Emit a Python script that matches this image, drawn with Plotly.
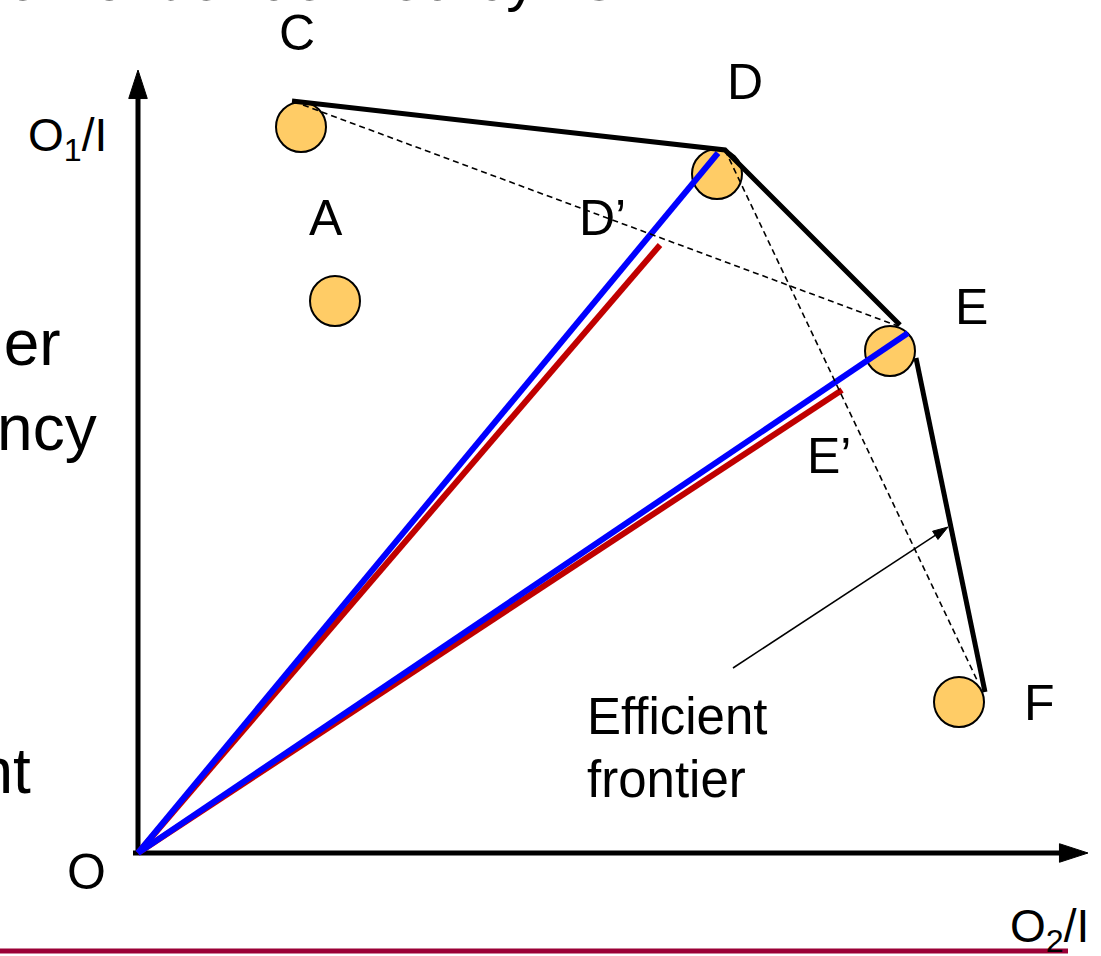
import plotly.graph_objects as go

# ---------------- data (units: O = origin, 1 unit ≈ 100 px) ----------------
point_names = ["C", "A", "D", "E", "F"]
point_x = [1.63, 1.97, 5.79, 7.52, 8.21]
point_y = [7.26, 5.52, 6.79, 5.02, 1.51]

# efficient frontier (solid black), gap between E and the E–F segment
frontier_x = [1.54, 5.87, 7.62, None, 7.78, 8.47]
frontier_y = [7.52, 7.03, 5.28, None, 4.95, 1.61]

# dashed chords C–E and D–F
chord_ce_x = [1.65, 7.60]
chord_ce_y = [7.48, 5.27]
chord_df_x = [5.87, 8.39]
chord_df_y = [7.03, 1.73]

# rays from the origin O
origin = (0.0, 0.0)
blue_end_x = [5.80, 7.70]   # towards D and E
blue_end_y = [7.00, 5.20]
red_end_x = [5.22, 7.04]    # towards D' and E'
red_end_y = [6.08, 4.63]

# axes (tail -> tip)
yaxis_line_x = [0.0, 0.0]
yaxis_line_y = [-0.02, 7.83]
xaxis_line_x = [-0.05, 9.50]
xaxis_line_y = [0.0, 0.0]

# pointer to the frontier
pointer_x = [5.95, 8.10]
pointer_y = [1.85, 3.26]

# ---------------- layout helpers ----------------
W, H = 1101, 956
OX, OY, SC = 138, 853, 100.0


def px2x(px):
    return (px - OX) / SC


def py2y(py):
    return (OY - py) / SC


FONT = "Liberation Sans, Arial, sans-serif"

fig = go.Figure()

# circles (drawn first so lines lie over them)
fig.add_trace(go.Scatter(
    x=point_x, y=point_y, mode="markers",
    marker=dict(size=50, color="#FFCC66", line=dict(color="black", width=2)),
    hoverinfo="text", text=point_names, showlegend=False))

# axes with arrow tips
for lx, ly in [(yaxis_line_x, yaxis_line_y), (xaxis_line_x, xaxis_line_y)]:
    fig.add_trace(go.Scatter(
        x=lx, y=ly, mode="lines+markers",
        line=dict(color="black", width=5),
        marker=dict(symbol="arrow", size=[0, 30], color="black", opacity=1,
                    angleref="previous", line=dict(color="black", width=1)),
        showlegend=False, hoverinfo="skip"))

# red rays (under the blue ones)
for ex, ey in zip(red_end_x, red_end_y):
    fig.add_trace(go.Scatter(
        x=[origin[0], ex], y=[origin[1], ey], mode="lines",
        line=dict(color="#C00000", width=6), showlegend=False, hoverinfo="skip"))

# blue rays
for ex, ey in zip(blue_end_x, blue_end_y):
    fig.add_trace(go.Scatter(
        x=[origin[0], ex], y=[origin[1], ey], mode="lines",
        line=dict(color="#0000FF", width=6), showlegend=False, hoverinfo="skip"))

# dashed chords
for cx, cy in [(chord_ce_x, chord_ce_y), (chord_df_x, chord_df_y)]:
    fig.add_trace(go.Scatter(
        x=cx, y=cy, mode="lines",
        line=dict(color="black", width=1.6, dash="6px,4px"),
        showlegend=False, hoverinfo="skip"))

# efficient frontier
fig.add_trace(go.Scatter(
    x=frontier_x, y=frontier_y, mode="lines",
    line=dict(color="black", width=5), connectgaps=False,
    showlegend=False, hoverinfo="skip"))

# pointer arrow
fig.add_trace(go.Scatter(
    x=pointer_x, y=pointer_y, mode="lines+markers",
    line=dict(color="black", width=1.5),
    marker=dict(symbol="arrow", size=[0, 16], color="black", opacity=1,
                angleref="previous", line=dict(color="black", width=1)),
    showlegend=False, hoverinfo="skip"))

# ---------------- text (positions in page pixels, placed on paper) ----------------
labels = [
    # text, px x, px y (cap centre), xanchor, size
    ("C", 297, 33, "center", 50),
    ("D", 745, 82, "center", 50),
    ("A", 326, 218, "center", 50),
    ("D\u2019", 602, 218, "center", 50),
    ("E", 971, 307, "center", 50),
    ("E\u2019", 829, 456, "center", 50),
    ("F", 1039, 703, "center", 50),
    ("O", 86, 872, "center", 50),
    ("O<sub>1</sub>/I", 109, 138, "right", 46),
    ("O<sub>2</sub>/I", 1091, 929, "right", 46),
    ("Efficient", 585, 716, "left", 51),
    ("frontier", 585, 779, "left", 51),
    ("Higher", 63, 343, "right", 64),
    ("efficiency", 99, 428, "right", 64),
    ("Inefficient", 33, 771, "right", 64),
    # title line of the slide, cut off at the top edge
    ("The frontier defined by", 538, -21, "right", 60),
    ("C-E-F", 574, -21, "left", 60),
]
for txt, lx, ly, anc, sz in labels:
    fig.add_annotation(
        x=lx / W, y=1 - ly / H, xref="paper", yref="paper", text=txt,
        showarrow=False, xanchor=anc, yanchor="middle",
        font=dict(family=FONT, size=sz, color="black"))

# bottom slide rule
fig.add_shape(type="line", xref="paper", yref="paper",
              x0=0, x1=1068 / W, y0=1 - 951 / H, y1=1 - 951 / H,
              line=dict(color="#9B0036", width=5), layer="below")

fig.update_layout(
    width=W, height=H,
    margin=dict(l=0, r=0, t=0, b=0),
    paper_bgcolor="white", plot_bgcolor="white",
    xaxis=dict(range=[px2x(0), px2x(W)], visible=False, fixedrange=True),
    yaxis=dict(range=[py2y(H), py2y(0)], visible=False, fixedrange=True),
    showlegend=False,
)

fig.write_html(
    "out.html",
    config={"displayModeBar": False},
    post_script="document.body.style.margin='0';document.body.style.overflow='hidden';",
)
